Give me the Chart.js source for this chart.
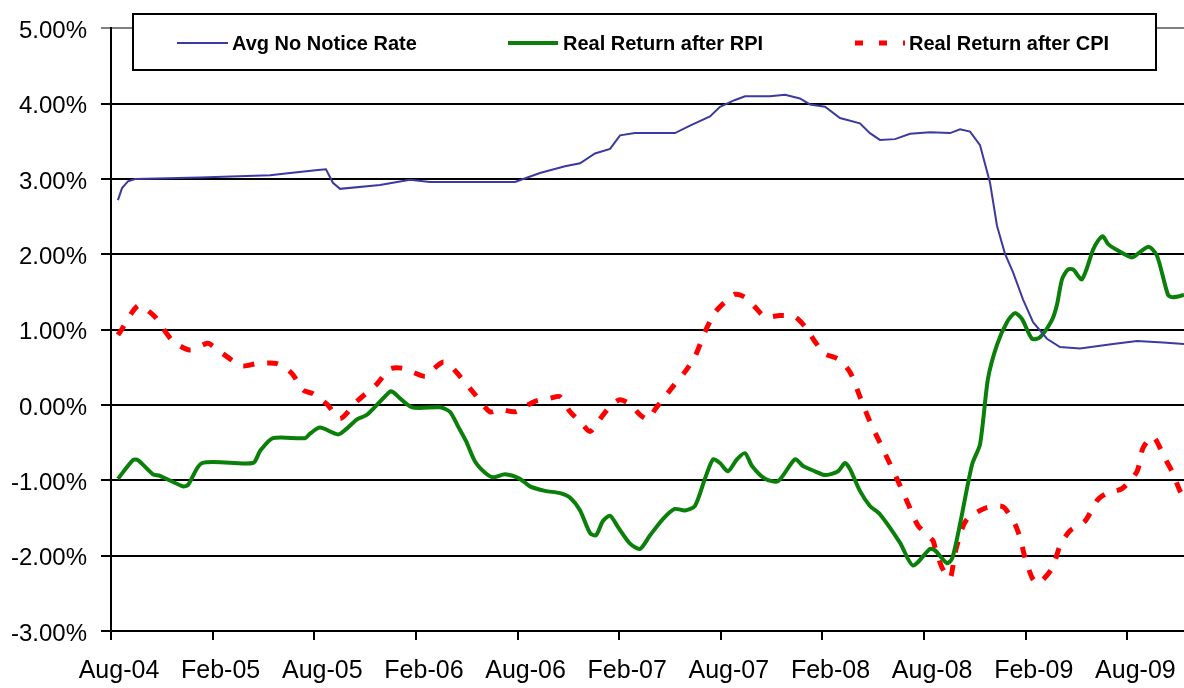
<!DOCTYPE html>
<html>
<head>
<meta charset="utf-8">
<script src="https://cdn.jsdelivr.net/npm/chart.js@4.4.1/dist/chart.umd.min.js"></script>
<style>
  html, body { margin:0; padding:0; background:#fff; }
  #wrap { width:1184px; height:688px; }
</style>
</head>
<body>
<div id="wrap"><canvas id="chart" width="1184" height="688"></canvas></div>
<script>
/* ── DATA (x = months since Aug-04) ───── */
const TICK_LABELS = ['Aug-04','Feb-05','Aug-05','Feb-06','Aug-06','Feb-07','Aug-07','Feb-08','Aug-08','Feb-09','Aug-09'];
const TICK_MONTHS = [0,6,12,18,24,30,36,42,48,54,60];

const RATE_MONTHS = [0.41,0.65,1.0,1.42,5.25,9.39,10.57,12.22,12.69,13.1,13.52,15.88,17.65,18.83,23.85,25.32,26.8,27.69,28.57,29.46,30.05,30.93,33.29,34.18,35.36,35.95,36.84,37.43,38.9,39.79,40.67,41.26,42.15,43.03,44.21,44.8,45.39,46.28,47.17,48.35,49.53,50.12,50.71,51.3,51.89,52.3,52.77,53.25,53.84,54.43,55.25,56.02,57.2,59.15,60.57,62.1,63.34];
const RATE_VALUES = [2.72,2.88,2.97,3.0,3.02,3.05,3.08,3.12,3.13,2.95,2.87,2.92,2.99,2.96,2.96,3.08,3.17,3.21,3.34,3.40,3.58,3.61,3.61,3.71,3.83,3.96,4.05,4.10,4.10,4.12,4.07,3.99,3.96,3.81,3.74,3.61,3.52,3.53,3.60,3.62,3.61,3.66,3.63,3.45,2.95,2.38,2.01,1.76,1.40,1.10,0.88,0.77,0.75,0.81,0.85,0.83,0.81];

const RPI_MONTHS = [0.41,1.3,1.59,2.48,2.89,4.25,4.55,5.37,8.38,8.8,9.56,11.45,11.75,12.34,13.4,13.93,14.52,15.11,16.47,16.65,17.77,19.42,20.01,20.48,20.96,21.49,22.08,22.55,23.26,24.14,24.73,25.62,26.51,27.1,27.69,28.28,28.63,29.04,29.46,29.93,30.64,31.23,31.82,32.59,33.29,33.88,34.47,35.06,35.54,35.95,36.42,36.95,37.43,37.84,38.61,39.38,40.38,40.85,41.56,42.15,42.92,43.33,43.62,44.21,44.8,45.39,46.58,47.34,48.35,48.64,49.35,49.65,50.12,50.83,51.3,51.77,52.3,52.89,53.36,53.78,54.37,54.84,55.55,55.84,56.14,56.49,56.79,57.32,57.97,58.26,58.56,58.85,59.44,60.27,60.74,61.27,61.75,62.4,62.69,63.34];
const RPI_VALUES = [-0.98,-0.73,-0.73,-0.92,-0.94,-1.08,-1.06,-0.77,-0.77,-0.61,-0.44,-0.44,-0.38,-0.30,-0.39,-0.31,-0.19,-0.13,0.18,0.17,-0.03,-0.03,-0.09,-0.28,-0.48,-0.75,-0.90,-0.96,-0.92,-0.98,-1.08,-1.14,-1.17,-1.23,-1.40,-1.70,-1.73,-1.54,-1.47,-1.62,-1.84,-1.91,-1.73,-1.51,-1.38,-1.40,-1.34,-0.98,-0.72,-0.77,-0.88,-0.72,-0.64,-0.81,-0.98,-1.01,-0.72,-0.81,-0.88,-0.93,-0.88,-0.77,-0.85,-1.14,-1.34,-1.45,-1.83,-2.13,-1.91,-1.93,-2.10,-2.04,-1.58,-0.79,-0.52,0.35,0.80,1.10,1.22,1.14,0.88,0.90,1.13,1.33,1.67,1.80,1.80,1.67,2.06,2.18,2.24,2.14,2.05,1.96,2.03,2.10,1.98,1.46,1.43,1.46];

const CPI_MONTHS = [0.41,0.65,1.24,1.59,1.83,2.6,3.6,4.66,5.67,5.84,6.61,7.73,8.62,9.8,10.68,11.33,11.92,12.75,13.52,14.52,15.7,16.47,17.18,17.77,18.54,18.83,19.6,20.01,20.6,21.49,22.37,22.96,23.85,24.44,25.03,25.91,26.51,27.1,27.69,28.28,28.75,29.46,30.05,30.64,31.23,31.7,32.11,32.7,33.29,33.88,34.47,35.06,35.66,36.25,36.84,37.43,38.02,38.61,39.49,40.38,40.97,41.56,42.15,42.92,43.62,44.21,44.8,45.39,45.98,46.46,47.05,47.64,48.52,48.64,49.06,49.53,49.82,50.24,50.59,51.59,52.48,52.77,53.36,53.66,53.96,54.37,54.72,55.55,56.02,56.61,57.5,58.2,58.8,59.68,60.57,60.92,61.51,62.22,62.63,63.1,63.34];
const CPI_VALUES = [0.93,1.01,1.23,1.32,1.31,1.17,0.86,0.73,0.82,0.81,0.68,0.52,0.55,0.55,0.42,0.20,0.15,0.01,-0.18,0.05,0.28,0.48,0.49,0.44,0.38,0.44,0.57,0.53,0.38,0.14,-0.09,-0.06,-0.09,-0.02,0.05,0.09,0.11,-0.09,-0.22,-0.35,-0.22,-0.02,0.07,0.01,-0.13,-0.19,-0.06,0.11,0.28,0.44,0.64,0.97,1.23,1.37,1.47,1.43,1.30,1.17,1.19,1.17,1.04,0.84,0.68,0.61,0.44,0.11,-0.22,-0.50,-0.78,-1.01,-1.31,-1.60,-1.80,-1.89,-2.16,-2.30,-1.97,-1.64,-1.50,-1.37,-1.34,-1.37,-1.58,-1.76,-2.03,-2.29,-2.37,-2.17,-1.87,-1.67,-1.54,-1.27,-1.17,-1.11,-0.88,-0.57,-0.42,-0.71,-0.88,-1.14,-1.23];

const SERIES = [
  { label:'Avg No Notice Rate',     color:'#3A3AA0', width:2, dash:[],     months:RATE_MONTHS, values:RATE_VALUES, tension:0 },
  { label:'Real Return after RPI',  color:'#0A800A', width:4, dash:[],     months:RPI_MONTHS,  values:RPI_VALUES,  tension:0.25 },
  { label:'Real Return after CPI',  color:'#FF0000', width:5, dash:[11,13], months:CPI_MONTHS,  values:CPI_VALUES,  tension:0.25 },
];

const toPoints = (xs, ys) => xs.map((x, i) => ({ x, y: ys[i] }));

/* ── LEGEND BOX ───────────────────────── */
const boxLegend = {
  id: 'boxLegend',
  afterDraw(chart) {
    const ctx = chart.ctx;
    ctx.save();
    ctx.fillStyle = '#fff';
    ctx.fillRect(133, 14, 1023, 56);
    ctx.strokeStyle = '#000';
    ctx.lineWidth = 2;
    ctx.strokeRect(133, 14, 1023, 56);

    const items = [
      { x1:177, x2:228, tx:232 },
      { x1:508, x2:558, tx:563 },
      { x1:855, x2:905, tx:909 },
    ];
    ctx.font = 'bold 20px "Liberation Sans", Arial, sans-serif';
    ctx.textBaseline = 'middle';
    items.forEach((it, i) => {
      const s = SERIES[i];
      ctx.beginPath();
      ctx.strokeStyle = s.color;
      ctx.lineWidth = s.width;
      ctx.setLineDash(i === 2 ? [8,16] : []);
      ctx.moveTo(it.x1, 43);
      ctx.lineTo(it.x2, 43);
      ctx.stroke();
      ctx.setLineDash([]);
      ctx.fillStyle = '#000';
      ctx.fillText(s.label, it.tx, 44);
    });
    ctx.restore();
  }
};

/* ── CHART ────────────────────────────── */
new Chart(document.getElementById('chart'), {
  type: 'line',
  data: {
    datasets: SERIES.map(s => ({
      label: s.label,
      data: toPoints(s.months, s.values),
      borderColor: s.color,
      borderWidth: s.width,
      borderDash: s.dash,
      pointRadius: 0,
      tension: s.tension,
      fill: false,
    }))
  },
  options: {
    responsive: false,
    animation: false,
    layout: { padding: { top: 24, right: 0, left: 0, bottom: 0 } },
    plugins: { legend: { display: false }, tooltip: { enabled: false } },
    scales: {
      x: {
        type: 'linear',
        min: 0,
        max: 63.34,
        afterBuildTicks(scale) { scale.ticks = TICK_MONTHS.map(v => ({ value: v })); },
        afterFit(scale) { scale.height = 57; },
        grid: { drawOnChartArea: false, drawTicks: true, tickLength: 9, color: '#000', lineWidth: 2 },
        border: { color: '#000', width: 2 },
        ticks: {
          color: '#000',
          font: { family: '"Liberation Sans", Arial, sans-serif', size: 25 },
          padding: 16,
          labelOffset: 8,
          maxRotation: 0,
          autoSkip: false,
          callback: (v) => TICK_LABELS[TICK_MONTHS.indexOf(v)] ?? '',
        }
      },
      y: {
        min: -3,
        max: 5,
        afterFit(scale) { scale.width = 111; },
        grid: {
          color: (c) => c.tick && c.tick.value === 5 ? '#808080' : '#000',
          lineWidth: 2,
          tickLength: 10,
        },
        border: { color: '#000', width: 2 },
        ticks: {
          stepSize: 1,
          color: '#000',
          padding: 14,
          labelOffset: 3,
          font: { family: '"Liberation Sans", Arial, sans-serif', size: 24 },
          callback: (v) => v.toFixed(2) + '%',
        }
      }
    }
  },
  plugins: [boxLegend]
});
</script>
</body>
</html>
